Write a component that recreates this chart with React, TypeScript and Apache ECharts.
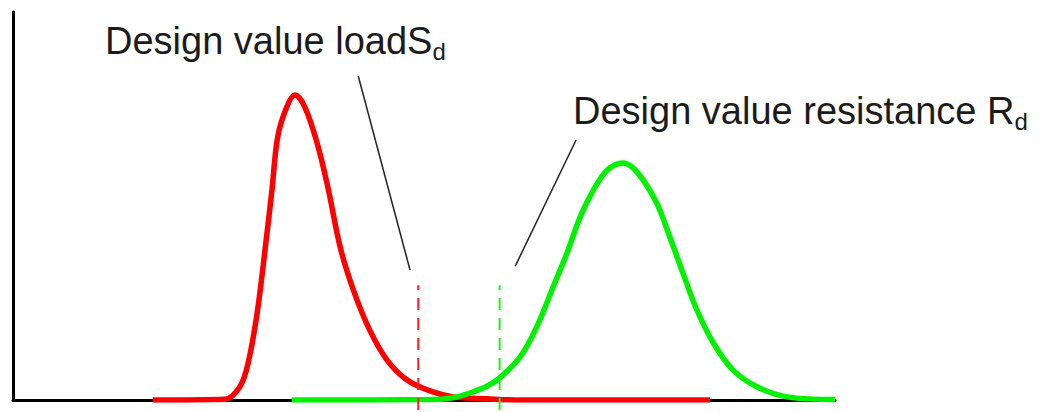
import React, { useEffect, useRef } from "react";
import * as echarts from "echarts";

// Load distribution (red)
const loadX = [17.0, 25.8, 27.6, 28.6, 29.7, 30.7, 31.5, 32.2, 33.3, 34.3, 35.5, 37.0, 38.3, 39.8, 41.4, 43.4, 45.5, 47.9, 50.4, 53.5, 57.7, 61.7, 84.8];
const loadY = [0, 0.2, 3.4, 9.5, 22.4, 39.4, 54.1, 67.8, 75.5, 78.6, 75.5, 66.2, 54.9, 39.4, 28.4, 18.0, 10.3, 5.2, 2.6, 0.8, 0.3, 0, 0];

// Resistance distribution (green)
const resistX = [33.9, 50.7, 53.5, 55.6, 57.7, 59.2, 61.7, 63.7, 65.7, 67.4, 69.0, 70.6, 72.3, 74.2, 75.9, 78.3, 79.9, 81.5, 83.2, 85.2, 87.6, 90.5, 94.2, 100];
const resistY = [0, 0.1, 0.6, 1.8, 3.6, 5.7, 11.1, 18.8, 29.1, 37.9, 47.2, 54.1, 59.3, 61.1, 58.8, 50.8, 42.0, 32.7, 23.2, 14.7, 7.7, 3.4, 0.8, 0.1];

// Design values
const designLoadX = 49.3;
const designResistX = 59.2;
const designLineY = [-2.6, 29.6];

// Leader lines (x, y pairs)
const loadLeaderX = [42.0, 48.3];
const loadLeaderY = [83.5, 33.5];
const resistLeaderX = [68.5, 61.1];
const resistLeaderY = [67.0, 34.5];

const labelLoad = "Design value load";
const labelLoadSym = "S";
const labelResist = "Design value resistance ";
const labelResistSym = "R";
const subscript = "d";

const pairs = (xs: number[], ys: number[]) => xs.map((x, i) => [x, ys[i]]);

export default function App() {
  const ref = useRef<HTMLDivElement>(null);
  useEffect(() => {
    const chart = echarts.init(ref.current!, null, { renderer: "svg" });
    const axisCommon = {
      type: "value",
      min: 0,
      max: 100,
      axisLine: { show: true, onZero: true, lineStyle: { color: "#000", width: 3 } },
      axisTick: { show: false },
      axisLabel: { show: false },
      splitLine: { show: false },
    };
    const rich = {
      m: { fontSize: 38, fontFamily: "Liberation Sans, Arial, sans-serif", lineHeight: 44, fill: "#1b1b1b" },
      s: { fontSize: 24, fontFamily: "Liberation Sans, Arial, sans-serif", lineHeight: 10, verticalAlign: "bottom", fill: "#1b1b1b" },
    };
    chart.setOption({
      animation: false,
      backgroundColor: "#fff",
      grid: { left: 13, right: 205, top: 12, bottom: 12 },
      xAxis: axisCommon,
      yAxis: axisCommon,
      series: [
        {
          type: "line",
          data: pairs(loadX, loadY),
          symbol: "none",
          smooth: 0.35,
          lineStyle: { color: "#ff0000", width: 5.5 },
          z: 3,
        },
        {
          type: "line",
          data: pairs(resistX, resistY),
          symbol: "none",
          smooth: 0.35,
          lineStyle: { color: "#00f200", width: 5.5 },
          z: 4,
        },
        {
          type: "line",
          data: designLineY.map((y) => [designLoadX, y]),
          symbol: "none",
          clip: false,
          lineStyle: { color: "#ff2020", width: 2, type: [12, 8] },
          z: 5,
        },
        {
          type: "line",
          data: designLineY.map((y) => [designResistX, y]),
          symbol: "none",
          clip: false,
          lineStyle: { color: "#22ee22", width: 2, type: [12, 8] },
          z: 5,
        },
        {
          type: "line",
          data: pairs(loadLeaderX, loadLeaderY),
          symbol: "none",
          lineStyle: { color: "#222", width: 1.5 },
          z: 5,
        },
        {
          type: "line",
          data: pairs(resistLeaderX, resistLeaderY),
          symbol: "none",
          lineStyle: { color: "#222", width: 1.5 },
          z: 5,
        },
      ],
      graphic: [
        {
          type: "text",
          x: 105,
          y: 19,
          style: {
            text: `{m|${labelLoad}${labelLoadSym}}{s|${subscript}}`,
            rich,
            verticalAlign: "top",
          },
        },
        {
          type: "text",
          x: 573,
          y: 89,
          style: {
            text: `{m|${labelResist}${labelResistSym}}{s|${subscript}}`,
            rich,
            verticalAlign: "top",
          },
        },
      ],
    });
    return () => chart.dispose();
  }, []);
  return (
    <div
      ref={ref}
      style={{ position: "fixed", left: 0, top: 0, width: 1040, height: 412, background: "#fff" }}
    />
  );
}
